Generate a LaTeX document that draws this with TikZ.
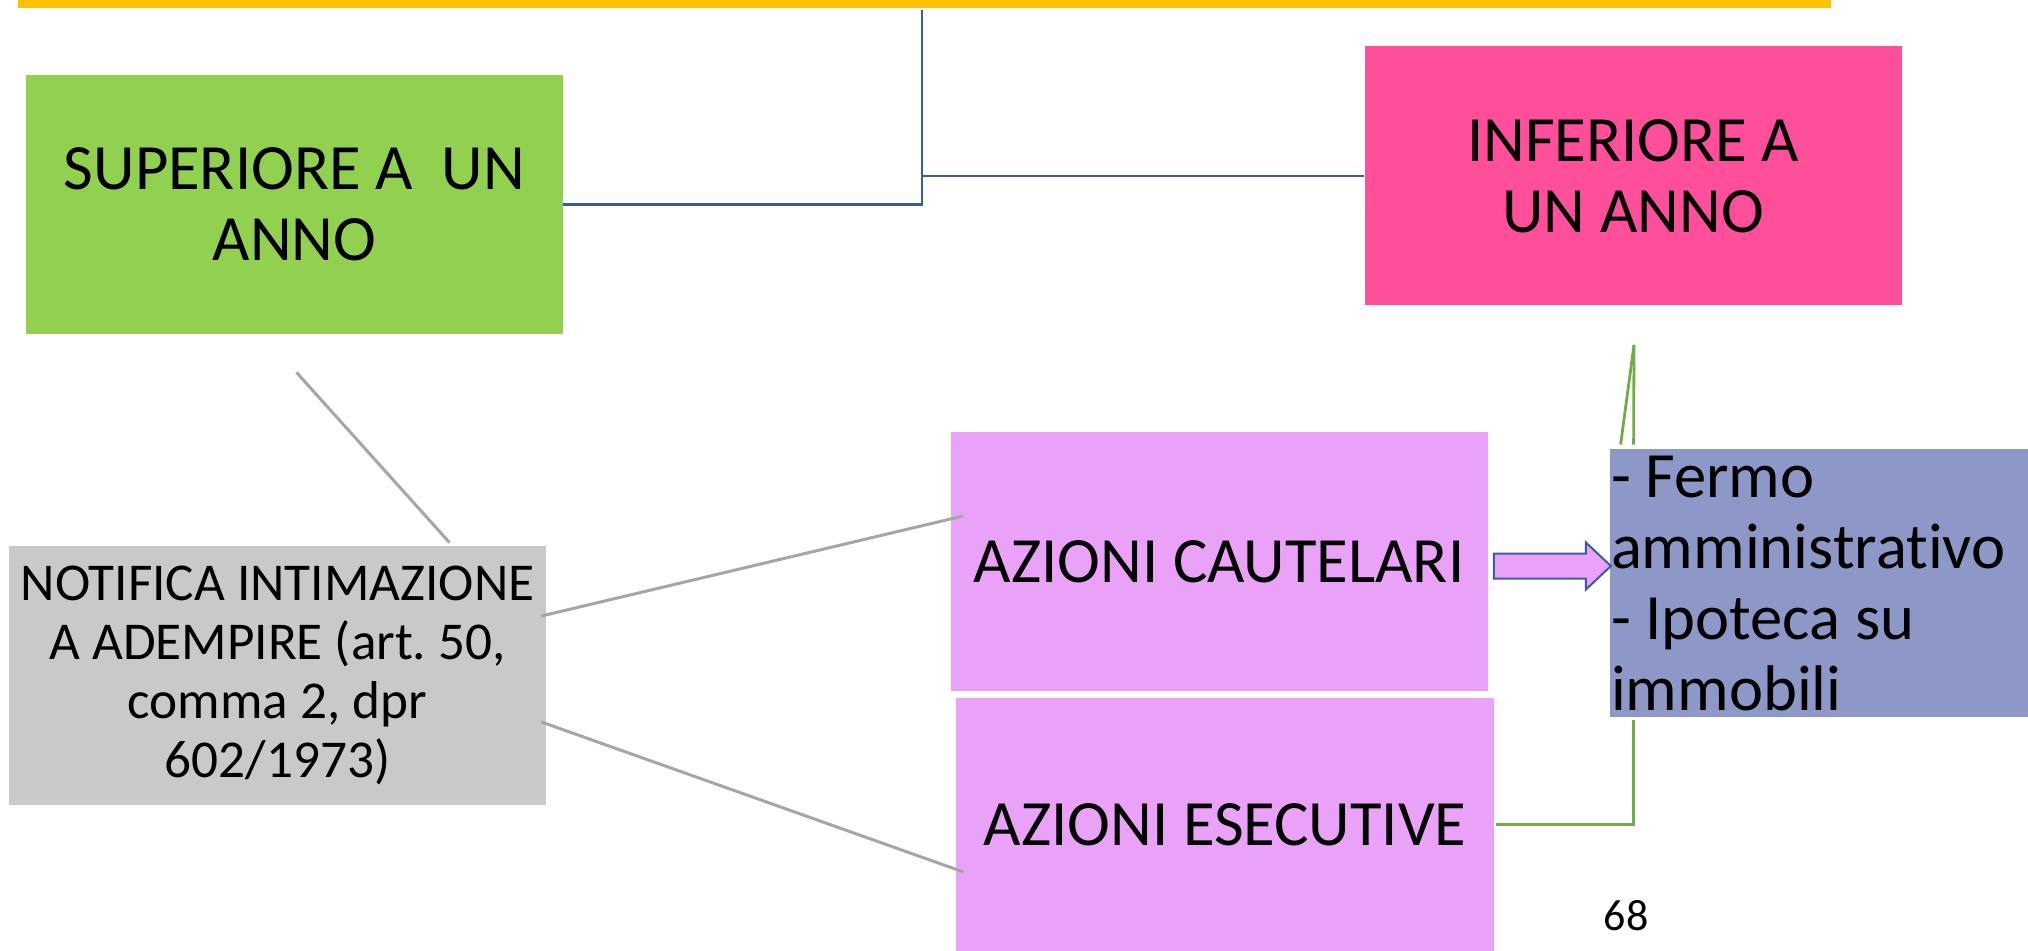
\documentclass[tikz,border=0pt]{standalone}
\usepackage{fontspec}
\setmainfont{Carlito}[Ligatures=NoCommon]
\usepackage{xcolor}
\usepackage{tikz}
\usetikzlibrary{positioning,calc}
\definecolor{barYellow}{HTML}{FFC000}
\definecolor{boxGreen}{HTML}{92D050}
\definecolor{boxPink}{HTML}{FF4F9B}
\definecolor{boxGray}{HTML}{C9C9C9}
\definecolor{boxViolet}{HTML}{EAA2F8}
\definecolor{boxSlate}{HTML}{8E98C8}
\definecolor{lineBlue}{HTML}{3B5DA0}
\definecolor{lineGreen}{HTML}{70AD47}
\definecolor{lineGray}{HTML}{A6A6A6}
\tikzstyle{arrowbox}=[draw=lineBlue, line width=1pt, fill=boxViolet, line join=miter]
\frenchspacing

\begin{document}
\begin{tikzpicture}[x=0.5pt, y=-0.5pt,
  box/.style={inner sep=0pt, align=center, minimum width=268.5pt,
              minimum height=129.5pt, font=\fontsize{32.3}{35.5}\selectfont},
  conn/.style={line width=1.3pt, color=lineBlue},
  greyconn/.style={line width=1.5pt, color=lineGray},
  greenconn/.style={line width=1.4pt, color=lineGreen}]
\useasboundingbox (0,0) rectangle (2028,951);
% top bar
\fill[barYellow] (18,0) rectangle (1831,8);
\node[box, fill=boxGreen]  (sup)   at (294.5,204.5) {SUPERIORE A\ \ UN\\ANNO};
\node[box, fill=boxPink]   (inf)   at (1633,176)    {INFERIORE A\\UN ANNO};
\node[box, fill=boxGray, font=\fontsize{26.6}{29.5}\selectfont]
                           (notif) at (277.5,675.5) {NOTIFICA INTIMAZIONE\\A ADEMPIRE (art. 50,\\comma 2, dpr\\602/1973)};
\node[box, fill=boxViolet] (caut)  at (1219,561.5)  {AZIONI CAUTELARI};
\node[box, fill=boxViolet, minimum height=126.5pt, minimum width=269pt]
                           (esec)  at (1225,824.5)  {AZIONI ESECUTIVE};
\node[box, fill=boxSlate, minimum width=209pt, minimum height=134pt,
      text width=208pt, align=flush left, inner xsep=0.5pt]
                           (lista) at (1819,583)    {- Fermo\\amministrativo\\- Ipoteca su\\immobili};
\node[font=\fontsize{22}{26}\selectfont] (page) at (1626,916) {68};
% connectors
\coordinate (top) at (922,10);
\draw[conn] (sup.east) -| (top);
\draw[conn] (inf.west) -- (inf.west -| top);
\draw[greyconn] ($(sup.south)+(2,38)$) -- ($(notif.north)+(172,-3)$);
\draw[greyconn] ($(notif.east)+(-5,-59.5)$) -- ($(caut.west)+(13,-45.5)$);
\draw[greyconn] ($(notif.east)+(-5,46.5)$) -- ($(esec.west)+(8,47.5)$);
\coordinate (split) at ($(inf.south)+(1,39)$);
\draw[greenconn] (split) -- ($(lista.north west)+(11,-4)$);
\draw[greenconn] (split) -- ($(lista.north west)+(24,-4)$);
\draw[greenconn] ($(esec.east)+(2,0)$) -| ($(lista.south west)+(24,3)$);
\draw[arrowbox] ($(caut.east)+(6,-8)$) -- ++(92,0) -- ++(0,-11) -- ++(25,23.5)
  -- ++(-25,23.5) -- ++(0,-11) -- ++(-92,0) -- cycle;
\end{tikzpicture}
\end{document}
